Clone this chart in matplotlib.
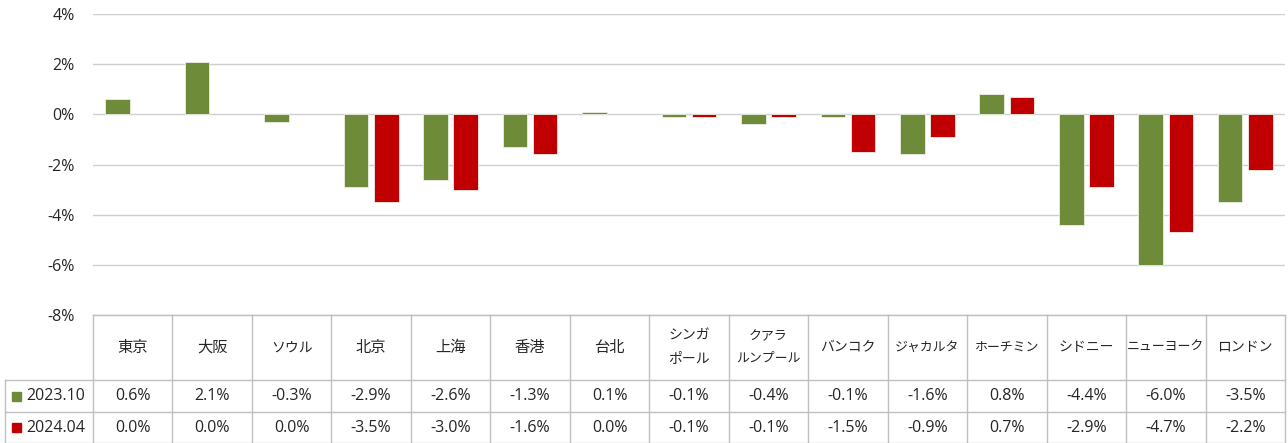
import matplotlib
matplotlib.use("Agg")
import matplotlib.pyplot as plt
from matplotlib.patches import Rectangle
from matplotlib.transforms import blended_transform_factory
import numpy as np

plt.rcParams["font.family"] = ["Open Sans", "Noto Sans CJK JP", "DejaVu Sans"]

cities = ["東京", "大阪", "ソウル", "北京", "上海", "香港", "台北", "シンガ\nポール",
          "クアラ\nルンプール", "バンコク", "ジャカルタ", "ホーチミン", "シドニー",
          "ニューヨーク", "ロンドン"]
series_names = ["2023.10", "2024.04"]
s2023 = [0.6, 2.1, -0.3, -2.9, -2.6, -1.3, 0.1, -0.1, -0.4, -0.1, -1.6, 0.8, -4.4, -6.0, -3.5]
s2024 = [0.0, 0.0, 0.0, -3.5, -3.0, -1.6, 0.0, -0.1, -0.1, -1.5, -0.9, 0.7, -2.9, -4.7, -2.2]
colors = ["#6E8B3A", "#C00000"]
yticks = [4, 2, 0, -2, -4, -6, -8]

W, H = 1288, 443
fig = plt.figure(figsize=(W / 100, H / 100), dpi=100)
left, right, top, bottom = 93, 1285, 14, 315
ax = fig.add_axes([left / W, 1 - bottom / H, (right - left) / W, (bottom - top) / H])

x = np.arange(len(cities))
bw = 0.31
off = 0.19
for vals, col, sgn in [(s2023, colors[0], -1), (s2024, colors[1], 1)]:
    lw = [0.6 if v != 0 else 0 for v in vals]
    ax.bar(x + sgn * off, vals, bw, color=col, edgecolor="#eceee6", linewidth=lw, zorder=3)

ax.set_xlim(-0.5, len(cities) - 0.5)
ax.set_ylim(-8, 4)
ax.set_yticks(yticks)
ax.set_yticklabels([f"{v}%" for v in yticks], fontsize=11.5, color="#262626")
ax.tick_params(axis="y", length=0, pad=13)
ax.set_xticks([])
ax.grid(axis="y", color="#D0D0D0", linewidth=1.0, zorder=0)
for s in ax.spines.values():
    s.set_visible(False)

# data table below the plot
line_c = "#BFBFBF"
tr = blended_transform_factory(ax.transData, fig.transFigure)
def fy(py):
    return 1 - py / H

hdr_bot, r1_bot, r2_bot = 380, 412, 443
xl, xr = -0.5, len(cities) - 0.5
ax.plot([xl, xr], [fy(bottom)] * 2, transform=tr, color=line_c, lw=1, clip_on=False)
for py in (hdr_bot, r1_bot):
    fig.add_artist(plt.Line2D([5 / W, right / W], [fy(py)] * 2, color=line_c, lw=1))
fig.add_artist(plt.Line2D([5 / W, right / W], [fy(r2_bot) + 0.5 / H] * 2, color=line_c, lw=1))
for i in range(len(cities) + 1):
    ax.plot([xl + i, xl + i], [fy(bottom), fy(r2_bot)], transform=tr, color=line_c,
            lw=1, clip_on=False)
fig.add_artist(plt.Line2D([5 / W] * 2, [fy(hdr_bot), fy(r2_bot)], color=line_c, lw=1))

fs = 11.5
for i, c in enumerate(cities):
    kanji = all(ord(ch) >= 0x4E00 for ch in c)
    longest = max(len(part) for part in c.split("\n"))
    hsize = 11 if kanji else (10 if longest <= 4 else 9.3)
    ax.text(i, fy((bottom + hdr_bot) / 2), c, transform=tr, ha="center", va="center",
            fontsize=hsize, color="#262626", linespacing=1.8,
            family="Noto Sans CJK JP")
    ax.text(i, fy((hdr_bot + r1_bot) / 2), f"{s2023[i]:.1f}%", transform=tr,
            ha="center", va="center", fontsize=fs, color="#262626")
    ax.text(i, fy((r1_bot + r2_bot) / 2), f"{s2024[i]:.1f}%", transform=tr,
            ha="center", va="center", fontsize=fs, color="#262626")

for name, col, (ya, yb) in zip(series_names, colors, [(hdr_bot, r1_bot), (r1_bot, r2_bot)]):
    yc = (ya + yb) / 2
    fig.add_artist(Rectangle((12 / W, fy(yc + 4.5)), 9 / W, 9 / H, color=col,
                             transform=fig.transFigure))
    fig.text(26 / W, fy(yc), name, ha="left", va="center", fontsize=fs, color="#262626")

fig.savefig("out.png", dpi=100)
